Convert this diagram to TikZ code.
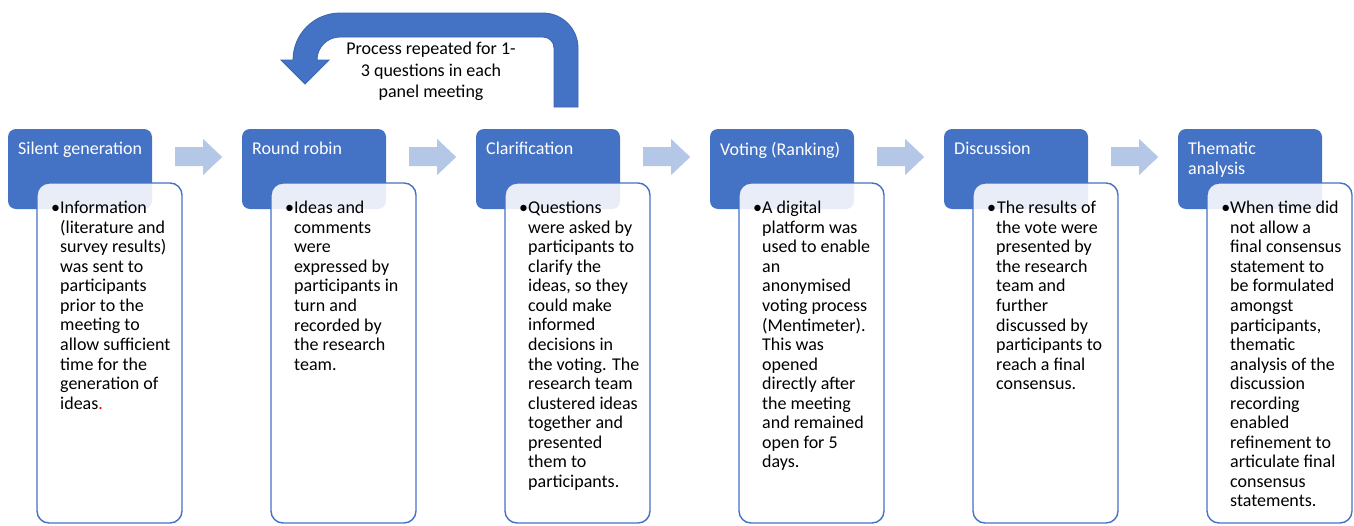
\documentclass[tikz,border=0pt]{standalone}
\usepackage{fontspec}
\setmainfont{Carlito}
\definecolor{hdrblue}{HTML}{4472C4}
\definecolor{hdrline}{HTML}{3A64AE}
\definecolor{lightarrow}{HTML}{B4C7E7}
\tikzset{
  hdr/.style={fill=hdrblue, rounded corners=8pt, minimum width=144pt, minimum height=80pt, inner sep=0pt},
  hdrtext/.style={anchor=north west, inner sep=0pt, text=white, align=left, font=\fontsize{18}{20}\selectfont},
  bodybox/.style={fill=white, fill opacity=0.88, draw=hdrblue, draw opacity=1, line width=1.4pt, rounded corners=12pt, minimum width=145pt, minimum height=340pt, inner sep=0pt},
  bodytext/.style={anchor=north west, inner sep=0pt, align=left, text=black, font=\fontsize{18}{19.55}\selectfont},
  stagearrow/.style={fill=lightarrow},
  uturn/.style={fill=hdrblue, draw=hdrline, line width=0.8pt},
  uturntext/.style={align=center, inner sep=0pt, font=\fontsize{18}{21.5}\selectfont}
}
\newcommand{\stagecol}[4]{%
  \node[hdr] (h#1) at (#2+72,169) {};
  \node[hdrtext] (ht#1) at (#2+10,142) {#3};
  \node[bodybox] (b#1) at (#2+101.5,353) {};
  \node[bodytext] (t#1) at (#2+52,201) {#4};
}
\begin{document}
\begin{tikzpicture}[x=1pt,y=-1pt]
\useasboundingbox (0,0) rectangle (1354,525);
\stagecol{1}{8}{Silent generation}{\llap{•}Information\\(literature and\\survey results)\\was sent to\\participants\\prior to the\\meeting to\\allow sufficient\\time for the\\generation of\\ideas{\color{red}.}}
\stagecol{2}{242}{Round robin}{\llap{•}Ideas and\\comments\\were\\expressed by\\participants in\\turn and\\recorded by\\the research\\team.}
\stagecol{3}{476}{Clarification}{\llap{•}Questions\\were asked by\\participants to\\clarify the\\ideas, so they\\could make\\informed\\decisions in\\the voting. The\\research team\\clustered ideas\\together and\\presented\\them to\\participants.}
\stagecol{4}{710}{Voting (Ranking)}{\llap{•}A digital\\platform was\\used to enable\\an\\anonymised\\voting process\\(Mentimeter).\\This was\\opened\\directly after\\the meeting\\and remained\\open for 5\\days.}
\stagecol{5}{944}{Discussion}{\llap{•}\kern1pt The results of\\the vote were\\presented by\\the research\\team and\\further\\discussed by\\participants to\\reach a final\\consensus.}
\stagecol{6}{1178}{Thematic\\analysis}{\llap{•}When time did\\not allow a\\final consensus\\statement to\\be formulated\\amongst\\participants,\\thematic\\analysis of the\\discussion\\recording\\enabled\\refinement to\\articulate final\\consensus\\statements.}
\foreach \i in {1,...,5}{
  \fill[stagearrow, shift={(h\i.east)}] (23,-22) -- (51,-22) -- (51,-30) -- (70,-12) -- (51,6) -- (51,-3) -- (23,-3) -- cycle;
}
% U-turn arrow
\draw[uturn] (578,107) -- (578,48) arc[start angle=0, end angle=-90, radius=35]
  -- (340,13) arc[start angle=-90, end angle=-180, radius=47]
  -- (281,60) -- (305,84) -- (329,60) -- (317,60)
  arc[start angle=180, end angle=270, radius=23]
  -- (543,37) arc[start angle=270, end angle=360, radius=11]
  -- (554,107) -- cycle;
\node[uturntext] (rep) at (431,71.5) {Process repeated for 1-\\3 questions in each\\panel meeting};
\end{tikzpicture}
\end{document}
